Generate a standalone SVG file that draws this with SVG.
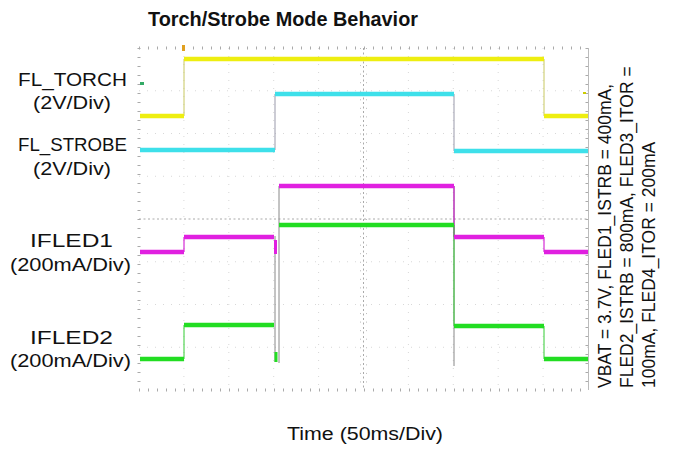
<svg xmlns="http://www.w3.org/2000/svg" width="673" height="450" viewBox="0 0 673 450">
<style>
.lbl{font-family:"Liberation Sans",Arial,sans-serif;font-size:18px;fill:#111;}
.ttl{font-family:"Liberation Sans",Arial,sans-serif;font-size:21px;font-weight:bold;fill:#111;}
.note{font-family:"Liberation Sans",Arial,sans-serif;font-size:17.5px;fill:#111;}
.grid{stroke:#d8d8d8;stroke-width:1;stroke-dasharray:1 7;fill:none;}
.axis{stroke:#aaa;stroke-width:1;stroke-dasharray:2 2.5;fill:none;}
.tick{stroke:#aaa;stroke-width:3;stroke-dasharray:1 8;fill:none;}
.tr{fill:none;stroke-width:4.5;stroke-linejoin:miter;}
</style>
<rect width="673" height="450" fill="#fff"/>
<text class="ttl" x="148" y="26" textLength="270" lengthAdjust="spacingAndGlyphs">Torch/Strobe Mode Behavior</text>
<g id="grid">
<path class="grid" d="M183.9,48V390M228.8,48V390M273.7,48V390M318.6,48V390M408.4,48V390M453.3,48V390M498.2,48V390M543.1,48V390"/>
<path class="grid" d="M139,90.75H588M139,133.5H588M139,176.25H588M139,261.75H588M139,304.5H588M139,347.25H588"/>
<path class="axis" d="M363.5,48V390M139,219H588"/>
<path class="tick" d="M139,48H588M139,390H588"/>
<path class="tick" d="M139,48V390M587,48V390"/>
<path d="M588.5,48V390" stroke="#bbb" stroke-width="1"/>
<path d="M360.5,48V390M366.5,48V390" stroke="#bbb" stroke-width="1" stroke-dasharray="1 7.55"/>
</g>
<g id="markers">
<rect x="182" y="45" width="3" height="6" fill="#e0a020"/>
<rect x="140" y="82" width="4" height="3" fill="#3a6"/>
<rect x="583" y="92" width="3" height="2" fill="#cc0"/>
</g>
<g id="connectors">
<path d="M184,116V59M544,59V116" stroke="#c8c860" stroke-width="1" fill="none"/>
<path d="M275,150V94M454,94V151" stroke="#99a" stroke-width="1" fill="none"/>
<path d="M279,186V363M454,186V366M275,236V362" stroke="#888" stroke-width="1" fill="none"/>
<path d="M184,252V237M454,237V186M544,237V252" stroke="#c0c" stroke-width="1" fill="none"/>
<path d="M184,359V325M454,326V225M544,326V359" stroke="#3c3" stroke-width="1" fill="none"/>
</g>
<g id="fl_torch">
<path class="tr" stroke="#eeee10" d="M140,116H184M184,59H544M544,116H588"/>
</g>
<g id="fl_strobe">
<path class="tr" stroke="#3ee0ea" d="M140,150H275M275,94H454M454,151H588"/>
</g>
<g id="ifled1">
<path class="tr" stroke="#e020e0" d="M140,252H184M184,237H274M279,186H454M454,237H544M544,252H588"/>
<path d="M275.5,240V254" stroke="#e020e0" stroke-width="3"/>
</g>
<g id="ifled2">
<path class="tr" stroke="#22dd22" d="M140,359H184M184,325H274M279,225H454M454,326H544M544,359H588"/>
<path d="M276,352V362" stroke="#22dd22" stroke-width="3"/>
</g>
<g id="labels">
<text class="lbl" x="18" y="86" textLength="109" lengthAdjust="spacingAndGlyphs">FL_TORCH</text>
<text class="lbl" x="33" y="109" textLength="78" lengthAdjust="spacingAndGlyphs">(2V/Div)</text>
<text class="lbl" x="18" y="151" textLength="109" lengthAdjust="spacingAndGlyphs">FL_STROBE</text>
<text class="lbl" x="33" y="175" textLength="78" lengthAdjust="spacingAndGlyphs">(2V/Div)</text>
<text class="lbl" x="30" y="247" textLength="83" lengthAdjust="spacingAndGlyphs">IFLED1</text>
<text class="lbl" x="10" y="271" textLength="121" lengthAdjust="spacingAndGlyphs">(200mA/Div)</text>
<text class="lbl" x="30" y="344" textLength="83" lengthAdjust="spacingAndGlyphs">IFLED2</text>
<text class="lbl" x="10" y="367" textLength="121" lengthAdjust="spacingAndGlyphs">(200mA/Div)</text>
<text class="lbl" x="287" y="440" textLength="156" lengthAdjust="spacingAndGlyphs">Time  (50ms/Div)</text>
</g>
<g id="note">
<text class="note" transform="translate(611,388) rotate(-90)">VBAT = 3.7V, FLED1_ISTRB = 400mA,</text>
<text class="note" transform="translate(633,388) rotate(-90)">FLED2_ISTRB = 800mA, FLED3_ITOR =</text>
<text class="note" transform="translate(655,388) rotate(-90)">100mA, FLED4_ITOR = 200mA</text>
</g>
</svg>
